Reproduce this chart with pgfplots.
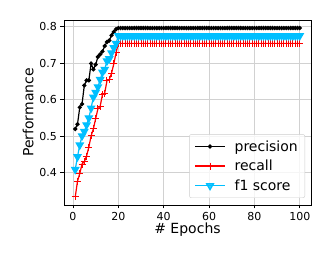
\documentclass[border=0pt]{standalone}
\usepackage{fontspec}
\setmainfont{DejaVu Sans}
\usepackage{pgfplots}
\usepackage{pgfplotstable}
\pgfplotsset{compat=1.18}
\definecolor{dsb}{RGB}{0,191,255}
\pgfplotstableread{
ep prec rec f1
1 0.520 0.334 0.409
2 0.533 0.377 0.444
3 0.579 0.398 0.476
4 0.588 0.424 0.501
5 0.639 0.430 0.513
6 0.653 0.446 0.531
7 0.653 0.470 0.550
8 0.699 0.501 0.577
9 0.683 0.520 0.607
10 0.696 0.548 0.620
11 0.717 0.575 0.635
12 0.724 0.582 0.655
13 0.732 0.614 0.675
14 0.747 0.618 0.683
15 0.758 0.652 0.706
16 0.762 0.655 0.712
17 0.776 0.672 0.728
18 0.785 0.698 0.742
19 0.793 0.728 0.754
20 0.796 0.754 0.775
21 0.796 0.754 0.775
22 0.796 0.754 0.775
23 0.796 0.754 0.775
24 0.796 0.754 0.775
25 0.796 0.754 0.775
26 0.796 0.754 0.775
27 0.796 0.754 0.775
28 0.796 0.754 0.775
29 0.796 0.754 0.775
30 0.796 0.754 0.775
31 0.796 0.754 0.775
32 0.796 0.754 0.775
33 0.796 0.754 0.775
34 0.796 0.754 0.775
35 0.796 0.754 0.775
36 0.796 0.754 0.775
37 0.796 0.754 0.775
38 0.796 0.754 0.775
39 0.796 0.754 0.775
40 0.796 0.754 0.775
41 0.796 0.754 0.775
42 0.796 0.754 0.775
43 0.796 0.754 0.775
44 0.796 0.754 0.775
45 0.796 0.754 0.775
46 0.796 0.754 0.775
47 0.796 0.754 0.775
48 0.796 0.754 0.775
49 0.796 0.754 0.775
50 0.796 0.754 0.775
51 0.796 0.754 0.775
52 0.796 0.754 0.775
53 0.796 0.754 0.775
54 0.796 0.754 0.775
55 0.796 0.754 0.775
56 0.796 0.754 0.775
57 0.796 0.754 0.775
58 0.796 0.754 0.775
59 0.796 0.754 0.775
60 0.796 0.754 0.775
61 0.796 0.754 0.775
62 0.796 0.754 0.775
63 0.796 0.754 0.775
64 0.796 0.754 0.775
65 0.796 0.754 0.775
66 0.796 0.754 0.775
67 0.796 0.754 0.775
68 0.796 0.754 0.775
69 0.796 0.754 0.775
70 0.796 0.754 0.775
71 0.796 0.754 0.775
72 0.796 0.754 0.775
73 0.796 0.754 0.775
74 0.796 0.754 0.775
75 0.796 0.754 0.775
76 0.796 0.754 0.775
77 0.796 0.754 0.775
78 0.796 0.754 0.775
79 0.796 0.754 0.775
80 0.796 0.754 0.775
81 0.796 0.754 0.775
82 0.796 0.754 0.775
83 0.796 0.754 0.775
84 0.796 0.754 0.775
85 0.796 0.754 0.775
86 0.796 0.754 0.775
87 0.796 0.754 0.775
88 0.796 0.754 0.775
89 0.796 0.754 0.775
90 0.796 0.754 0.775
91 0.796 0.754 0.775
92 0.796 0.754 0.775
93 0.796 0.754 0.775
94 0.796 0.754 0.775
95 0.796 0.754 0.775
96 0.796 0.754 0.775
97 0.796 0.754 0.775
98 0.796 0.754 0.775
99 0.796 0.754 0.775
100 0.796 0.754 0.775
}\data
\begin{document}
\begin{tikzpicture}
\useasboundingbox (-64pt,-54pt) rectangle (268pt,205pt);
\begin{axis}[
  at={(0,0)}, anchor=south west,
  scale only axis, width=247pt, height=185pt,
  xmin=-3.95, xmax=104.95, ymin=0.312, ymax=0.818,
  xtick={0,20,40,60,80,100},
  ytick={0.4,0.5,0.6,0.7,0.8},
  yticklabel style={/pgf/number format/fixed,/pgf/number format/precision=1,/pgf/number format/fixed zerofill},
  /pgf/number format/assume math mode=true,
  tick label style={font=\fontsize{11}{13}\selectfont},
  tick align=outside, tick pos=left,
  major tick length=3.5pt,
  every tick/.style={black, line width=0.8pt},
  axis line style={line width=0.8pt},
  grid=major, grid style={line width=0.8pt, color=black!18},
  xlabel={\# Epochs}, ylabel={Performance},
  label style={font=\fontsize{14}{16}\selectfont},
  xlabel style={yshift=4pt},
  ylabel style={yshift=-1pt},
  legend style={at={(1,0)}, xshift=-6pt, yshift=7pt, anchor=south east, font=\fontsize{14}{16}\selectfont,
    draw=black!20, rounded corners=2pt, fill=white, fill opacity=0.8, text opacity=1,
    row sep=3.5pt, inner xsep=5pt, inner ysep=4pt,
    /tikz/every odd column/.append style={column sep=7pt}},
  legend cell align=left,
  legend image code/.code={\draw[mark repeat=2,mark phase=2,#1] plot coordinates {(0pt,0pt) (15pt,0pt) (30pt,0pt)};},
]
\addplot[black, line width=1.2pt, mark=*, mark size=1.5pt] table[x=ep,y=prec]{\data};
\addlegendentry{precision}
\addplot[red, line width=1.2pt, mark=+, mark size=3.5pt, mark options={line width=1pt}] table[x=ep,y=rec]{\data};
\addlegendentry{recall}
\addplot[dsb, line width=1.2pt, mark=triangle*, mark size=4pt, mark options={rotate=180}] table[x=ep,y=f1]{\data};
\addlegendentry{f1 score}
\end{axis}
\end{tikzpicture}
\end{document}
